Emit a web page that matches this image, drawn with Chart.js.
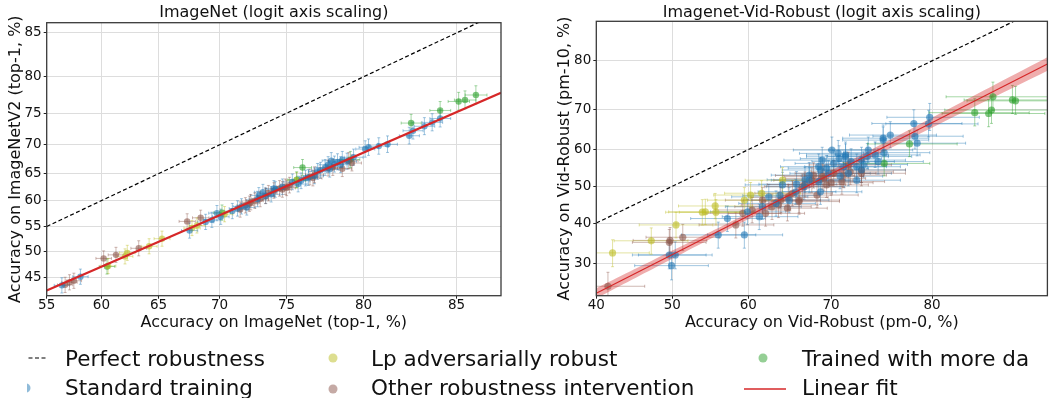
<!DOCTYPE html>
<html><head><meta charset="utf-8">
<script src="https://cdn.jsdelivr.net/npm/chart.js@4.4.0/dist/chart.umd.min.js"></script>
<style>
html,body{margin:0;padding:0;background:#fff;width:1051px;height:398px;overflow:hidden;font-family:'DejaVu Sans',sans-serif;}
canvas{position:absolute;top:0;}
.lg{position:absolute;font-size:21.5px;line-height:21.5px;color:#111;white-space:nowrap;}
</style></head>
<body>
<canvas id="c1" width="520" height="340" style="left:0"></canvas>
<canvas id="c2" width="521" height="340" style="left:530px"></canvas>
<canvas id="lgc" width="1051" height="58" style="left:0;top:340px"></canvas>
<div class="lg" style="left:65px;top:347.5px">Perfect robustness</div>
<div class="lg" style="left:65px;top:376.5px">Standard training</div>
<div class="lg" style="left:371px;top:347.5px">Lp adversarially robust</div>
<div class="lg" style="left:371px;top:376.5px">Other robustness intervention</div>
<div class="lg" style="left:802px;top:347.5px">Trained with more da</div>
<div class="lg" style="left:802px;top:376.5px">Linear fit</div>
<script>
// ---------- ImageNet vs ImageNetV2 (percent) ----------
const inStdX = [56.4,58.1,67.6,68.9,69.4,69.8,70.1,71.4,71.7,72.1,72.9,73.3,73.5,73.9,74.2,74.7,75.8,76.0,76.3,76.9,77.1,77.3,77.6,77.9,78.2,78.4,78.7,79.0,79.4,80.1,80.3,80.9,81.4,82.6,82.8,83.4,83.8,84.2,74.1,75.4,78.6,76.5,77.8,73.0,71.0,78.0];
const inStdY = [43.4,45.1,54.2,55.9,56.3,57.6,56.9,58.5,58.9,58.7,60.3,61.6,60.9,61.2,62.1,62.6,63.1,63.7,64.2,64.6,65.4,65.6,66.1,65.8,66.7,67.1,67.5,67.2,67.9,69.3,69.6,69.8,70.1,71.5,72.3,73.0,73.6,74.2,62.3,63.5,66.6,64.3,66.6,61.0,58.0,67.3];
const inOtherX = [56.7,57.1,57.5,60.2,61.3,63.3,67.4,68.5,71.6,72.0,72.4,72.7,73.1,73.7,74.1,74.5,74.9,75.2,74.7,76.6,76.9,77.8,78.1,78.7,79.3,72.3,73.5,75.0,76.8,79.1];
const inOtherY = [43.5,44.0,44.3,48.7,49.4,50.7,56.0,56.7,58.3,59.1,59.7,60.0,60.3,61.4,61.9,62.3,62.6,62.9,62.1,64.4,64.8,66.0,66.1,65.9,66.9,59.4,60.9,62.4,64.2,67.3];
const inLpX = [62.1,62.3,64.2,65.3,67.8,68.2,75.7,70.4,60.6];
const inLpY = [49.1,49.8,51.1,52.6,54.7,55.2,63.8,57.4,47.2];
const inMoreX = [85.9,85.4,85.1,84.2,82.7,79.2,76.1,70.2,60.5,75.7];
const inMoreY = [77.6,76.9,76.7,75.4,73.5,67.5,66.1,57.7,47.1,63.9];
const inXTicks = [55,60,65,70,75,80,85];
const inYTicks = [45,50,55,60,65,70,75,80,85];
const inXLim = [55, 87.0];
const inYLim = [41.4, 86.0];
const inFit = [0.922, -0.492];          // slope, intercept (logit space)
const inSampleSize = [19000, 4300];     // x, y

// ---------- Vid-Robust pm-0 vs pm-10 (percent) ----------
const vidStdX = [79.8,79.7,78.4,78.5,78.7,76.2,75.5,75.6,74.0,73.3,71.6,71.4,72.8,69.0,68.8,67.5,68.6,68.8,65.9,65.1,63.5,61.8,61.4,59.9,59.5,57.3,56.1,50.4,49.6,49.9,64.3,69.7,70.8,73.3,71.9,66.9,62.6,74.7,72.8,70.3,70.9,72.2,73.9,67.0,69.5,71.0,64.0,66.0,73.5,75.0,75.5,71.6,70.1,68.6,67.5];
const vidStdY = [68.2,66.6,66.7,63.5,61.7,63.8,63.0,59.2,59.9,57.2,58.1,55.4,55.4,57.2,54.5,53.1,51.3,48.5,48.5,46.2,45.3,44.4,41.7,43.0,36.9,41.2,36.9,31.9,31.9,29.4,50.4,53.6,59.0,54.5,53.6,49.9,47.1,58.6,51.7,56.3,57.6,56.8,58.2,51.8,55.0,52.8,47.5,50.6,56.0,56.8,62.5,58.6,59.9,55.4,51.7];
const vidOtherX = [41.5,49.6,51.4,58.4,60.5,61.8,63.0,64.1,65.5,66.7,67.8,69.2,70.3,71.4,72.1,73.3,66.3,68.4,64.9,59.3,71.2,69.5,71.9,62.2,49.7,67.0,70.0,68.0,69.0,73.3,66.3,65.0,63.8];
const vidOtherY = [24.9,35.0,36.3,39.5,43.5,46.2,44.4,46.2,48.1,49.9,51.7,52.2,53.6,53.1,54.0,53.6,45.8,47.6,44.0,42.6,51.3,50.4,55.9,42.6,35.5,50.5,51.0,53.0,52.7,54.5,46.2,47.0,44.9];
const vidLpX = [42.1,47.2,50.5,54.0,54.4,55.8,55.7,59.5,60.3,61.7,64.3];
const vidLpY = [32.4,35.4,39.5,42.9,43.0,42.9,44.6,46.2,47.6,48.1,51.7];
const vidMoreX = [84.7,84.6,84.4,83.4,86.0,86.2,78.0,75.6];
const vidMoreY = [72.9,69.9,69.1,69.3,72.2,72.0,61.5,56.3];
const vidXTicks = [40,50,60,70,80];
const vidYTicks = [30,40,50,60,70,80];
const vidXLim = [40, 88.1];
const vidYLim = [23.0, 86.1];
const vidFit = [1.052, -0.755];
const vidBandX = [40, 50, 60, 70, 80, 88.1];
const vidBandHalf = [0.055, 0.045, 0.035, 0.038, 0.055, 0.075];
const vidSampleSize = [400, 800];

// ---------- helpers ----------
const logit = p => Math.log(p / (1 - p));
const invPct = v => 100 / (1 + Math.exp(-v));

function pts(xs, ys, n) {
  return xs.map((xv, i) => {
    const px = xv / 100, py = ys[i] / 100;
    const ex = 1.96 * Math.sqrt(px * (1 - px) / n[0]);
    const ey = 1.96 * Math.sqrt(py * (1 - py) / n[1]);
    return {x: logit(px), y: logit(py), xl: logit(px - ex), xh: logit(px + ex), yl: logit(py - ey), yh: logit(py + ey)};
  });
}
function lineTwo(lim, fit) {
  const a = logit(lim[0] / 100), b = logit(lim[1] / 100);
  return [{x: a, y: fit[0] * a + fit[1]}, {x: b, y: fit[0] * b + fit[1]}];
}

const COL = {
  std: [31,119,180], other: [140,86,75], lp: [188,189,34], more: [44,160,44]
};
const rgba = (c, a) => `rgba(${c[0]},${c[1]},${c[2]},${a})`;

const errPlugin = {
  id: 'errbars',
  beforeDatasetsDraw(chart) {
    const {ctx, chartArea: a, scales: {x, y}} = chart;
    ctx.save();
    ctx.beginPath(); ctx.rect(a.left, a.top, a.right - a.left, a.bottom - a.top); ctx.clip();
    ctx.lineWidth = 1;
    const c = 1.5;
    chart.data.datasets.forEach(ds => {
      if (!ds.errColor) return;
      ctx.strokeStyle = ds.errColor;
      ds.data.forEach(p => {
        const px = x.getPixelForValue(p.x), py = y.getPixelForValue(p.y);
        const x1 = x.getPixelForValue(p.xl), x2 = x.getPixelForValue(p.xh);
        const y1 = y.getPixelForValue(p.yl), y2 = y.getPixelForValue(p.yh);
        ctx.beginPath();
        ctx.moveTo(x1, py); ctx.lineTo(x2, py);
        ctx.moveTo(px, y1); ctx.lineTo(px, y2);
        ctx.moveTo(x1, py - c); ctx.lineTo(x1, py + c);
        ctx.moveTo(x2, py - c); ctx.lineTo(x2, py + c);
        ctx.moveTo(px - c, y1); ctx.lineTo(px + c, y1);
        ctx.moveTo(px - c, y2); ctx.lineTo(px + c, y2);
        ctx.stroke();
      });
    });
    ctx.restore();
  }
};
const framePlugin = {
  id: 'frame',
  afterDraw(chart, args, opts) {
    const {ctx, chartArea: a} = chart;
    ctx.save();
    ctx.strokeStyle = '#3a3a3a'; ctx.lineWidth = 1.3;
    ctx.strokeRect(a.left, a.top, a.right - a.left, a.bottom - a.top);
    ctx.fillStyle = '#111';
    ctx.font = '16px "DejaVu Sans"';
    ctx.textAlign = 'center'; ctx.textBaseline = 'middle';
    ctx.fillText(opts.text, (a.left + a.right) / 2, opts.y);
    ctx.restore();
  }
};

function axis(lim, ticks, title, fitSize, isY, titlePad) {
  return {
    type: 'linear',
    min: logit(lim[0] / 100), max: logit(lim[1] / 100),
    afterBuildTicks: s => { s.ticks = ticks.map(t => ({value: logit(t / 100)})); },
    afterFit: s => { if (isY) s.width = fitSize; else s.height = fitSize; },
    ticks: {autoSkip: false, maxRotation: 0, minRotation: 0, color: '#111',
      font: {size: 13.5, family: 'DejaVu Sans'}, padding: isY ? 2 : -1.5,
      callback: v => String(Math.round(invPct(v)))},
    grid: {color: '#dddddd', lineWidth: 1, tickLength: 3, tickColor: '#222', drawTicks: true},
    border: {display: false},
    title: {display: true, text: title, color: '#111', font: {size: 16, family: 'DejaVu Sans'},
      padding: titlePad}
  };
}

function makeChart(id, cfg) {
  const datasets = [];
  const groups = [
    [cfg.stdX, cfg.stdY, COL.std], [cfg.otherX, cfg.otherY, COL.other],
    [cfg.lpX, cfg.lpY, COL.lp], [cfg.moreX, cfg.moreY, COL.more]
  ];
  groups.forEach((g, i) => {
    datasets.push({
      data: pts(g[0], g[1], cfg.n), showLine: false,
      pointRadius: cfg.r, pointBorderWidth: 0, pointHoverRadius: cfg.r,
      backgroundColor: rgba(g[2], 0.6), borderColor: rgba(g[2], 0.6),
      errColor: rgba(g[2], 0.42), order: 1 + i, clip: 0
    });
  });
  datasets.push({
    data: [{x: logit(cfg.xLim[0] / 100), y: logit(cfg.xLim[0] / 100)}, {x: logit(cfg.xLim[1] / 100), y: logit(cfg.xLim[1] / 100)}],
    showLine: true, pointRadius: 0, borderColor: '#000', borderWidth: 1.2, borderDash: [4, 2.5], order: 6, clip: 0
  });
  datasets.push({
    data: lineTwo(cfg.xLim, cfg.fit), showLine: true, pointRadius: 0,
    borderColor: '#d62728', borderWidth: cfg.fitW, order: 0, clip: 0
  });
  if (cfg.bandX) {
    const up = cfg.bandX.map((p, i) => { const v = logit(p / 100); return {x: v, y: cfg.fit[0] * v + cfg.fit[1] + cfg.bandHalf[i]}; });
    const lo = cfg.bandX.map((p, i) => { const v = logit(p / 100); return {x: v, y: cfg.fit[0] * v + cfg.fit[1] - cfg.bandHalf[i]}; });
    datasets.push({data: up, showLine: true, pointRadius: 0, borderWidth: 0, borderColor: 'rgba(0,0,0,0)',
      backgroundColor: 'rgba(214,39,40,0.38)', fill: '+1', tension: 0.4, order: 7, clip: 0});
    datasets.push({data: lo, showLine: true, pointRadius: 0, borderWidth: 0, borderColor: 'rgba(0,0,0,0)',
      fill: false, tension: 0.4, order: 8, clip: 0});
  }
  return new Chart(document.getElementById(id), {
    type: 'scatter',
    data: {datasets},
    options: {
      responsive: false, animation: false, devicePixelRatio: 1,
      layout: {padding: cfg.pad},
      plugins: {legend: {display: false}, tooltip: {enabled: false}, title: {display: false},
        frame: {text: cfg.title, y: cfg.titleY}},
      scales: {
        x: axis(cfg.xLim, cfg.xTicks, cfg.xTitle, 44.3, false, {top: 0, bottom: 7.9}),
        y: axis(cfg.yLim, cfg.yTicks, cfg.yTitle, cfg.yW, true, {top: cfg.yTitlePad, bottom: 0})
      }
    },
    plugins: [errPlugin, framePlugin]
  });
}

makeChart('c1', {
  stdX: inStdX, stdY: inStdY, otherX: inOtherX, otherY: inOtherY, lpX: inLpX, lpY: inLpY,
  moreX: inMoreX, moreY: inMoreY, n: inSampleSize, r: 3.2, fit: inFit, fitW: 2.2,
  xLim: inXLim, yLim: inYLim, xTicks: inXTicks, yTicks: inYTicks,
  xTitle: 'Accuracy on ImageNet (top-1, %)', yTitle: 'Accuracy on ImageNetV2 (top-1, %)',
  title: 'ImageNet (logit axis scaling)', titleY: 12.5,
  pad: {top: 22.7, right: 19, bottom: 0, left: 0}, yW: 46.7, yTitlePad: 6
});
makeChart('c2', {
  stdX: vidStdX, stdY: vidStdY, otherX: vidOtherX, otherY: vidOtherY, lpX: vidLpX, lpY: vidLpY,
  moreX: vidMoreX, moreY: vidMoreY, n: vidSampleSize, r: 3.6, fit: vidFit, fitW: 1.2,
  bandX: vidBandX, bandHalf: vidBandHalf,
  xLim: vidXLim, yLim: vidYLim, xTicks: vidXTicks, yTicks: vidYTicks,
  xTitle: 'Accuracy on Vid-Robust (pm-0, %)', yTitle: 'Accuracy on Vid-Robust (pm-10, %)',
  title: 'Imagenet-Vid-Robust (logit axis scaling)', titleY: 12.5,
  pad: {top: 21.3, right: 1, bottom: 0, left: 0}, yW: 66.3, yTitlePad: 25.7
});

// ---------- legend markers ----------
(function () {
  const ctx = document.getElementById('lgc').getContext('2d');
  ctx.save();
  ctx.beginPath(); ctx.rect(27, 0, 1051, 58); ctx.clip();
  ctx.strokeStyle = '#000'; ctx.lineWidth = 1.2; ctx.setLineDash([4, 2.5]);
  ctx.beginPath(); ctx.moveTo(22, 18); ctx.lineTo(47, 18); ctx.stroke();
  ctx.setLineDash([]);
  const dot = (x, y, c) => { ctx.fillStyle = rgba(c, 0.5); ctx.beginPath(); ctx.arc(x, y, 4.5, 0, Math.PI * 2); ctx.fill(); };
  dot(26, 48, COL.std);
  dot(333, 18, COL.lp);
  dot(333, 49, COL.other);
  dot(763, 18, COL.more);
  ctx.strokeStyle = '#d62728'; ctx.lineWidth = 1.5;
  ctx.beginPath(); ctx.moveTo(744, 49); ctx.lineTo(786, 49); ctx.stroke();
  ctx.restore();
})();
</script>
</body></html>
